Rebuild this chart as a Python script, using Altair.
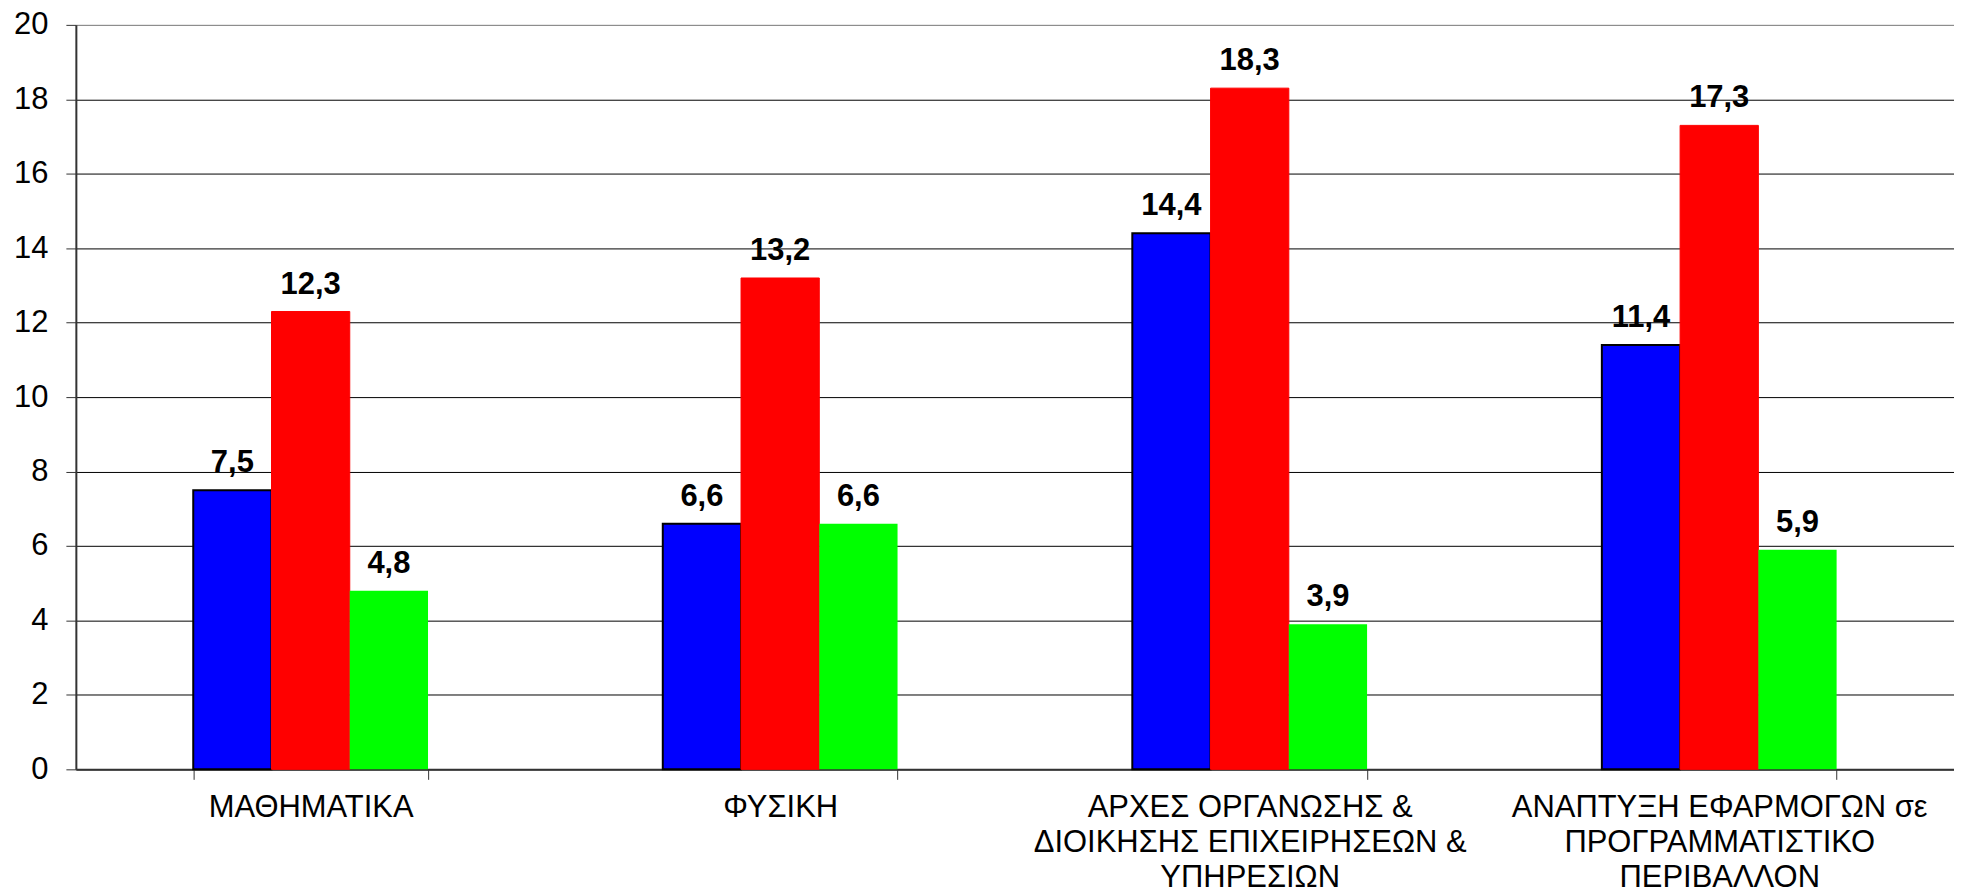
import altair as alt
import pandas as pd

categories = [
    "ΜΑΘΗΜΑΤΙΚΑ",
    "ΦΥΣΙΚΗ",
    "ΑΡΧΕΣ ΟΡΓΑΝΩΣΗΣ &|ΔΙΟΙΚΗΣΗΣ ΕΠΙΧΕΙΡΗΣΕΩΝ &|ΥΠΗΡΕΣΙΩΝ",
    "ΑΝΑΠΤΥΞΗ ΕΦΑΡΜΟΓΩΝ σε|ΠΡΟΓΡΑΜΜΑΤΙΣΤΙΚΟ|ΠΕΡΙΒΑΛΛΟΝ",
]
series = ["Σειρά 1", "Σειρά 2", "Σειρά 3"]
series1 = [7.5, 6.6, 14.4, 11.4]
series2 = [12.3, 13.2, 18.3, 17.3]
series3 = [4.8, 6.6, 3.9, 5.9]
colors = ["#0000FF", "#FF0000", "#00FF00"]
y_ticks = [0, 2, 4, 6, 8, 10, 12, 14, 16, 18, 20]

rows = []
for s, vals in zip(series, [series1, series2, series3]):
    for c, v in zip(categories, vals):
        rows.append({"category": c, "series": s, "value": v})
df = pd.DataFrame(rows)

FONT = "Liberation Sans"

x_enc = alt.X(
    "category:N",
    sort=categories,
    scale=alt.Scale(paddingInner=0.5, paddingOuter=0.25),
    axis=alt.Axis(
        title=None,
        labelAngle=0,
        labelFont=FONT,
        labelFontSize=31,
        labelColor="black",
        labelLineHeight=35,
        labelPadding=13,
        labelExpr="split(datum.label, '|')",
        tickBand="extent",
        tickSize=10,
        tickColor="#333333",
        domainColor="#333333",
        domainWidth=2,
        grid=False,
        labelLimit=600,
    ),
)
xoff = alt.XOffset("series:N", sort=series, scale=alt.Scale(paddingInner=0, paddingOuter=0))
y_enc = alt.Y(
    "value:Q",
    scale=alt.Scale(domain=[0, 20], nice=False),
    axis=alt.Axis(
        title=None,
        values=y_ticks,
        labelFont=FONT,
        labelFontSize=31,
        labelColor="black",
        labelPadding=18,
        tickSize=10,
        tickColor="#333333",
        domainColor="#333333",
        domainWidth=2,
        gridColor={"condition": {"test": "datum.value === 20", "value": "#808080"}, "value": "#000000"},
        gridWidth=1,
        gridOpacity=1,
    ),
)

base = alt.Chart(df)

bars = base.mark_bar().encode(
    x=x_enc,
    xOffset=xoff,
    y=y_enc,
    color=alt.Color("series:N", sort=series, scale=alt.Scale(domain=series, range=colors), legend=None),
    stroke=alt.Stroke("series:N", sort=series,
                      scale=alt.Scale(domain=series, range=["#000000", "#FF0000", "#00FF00"]), legend=None),
    strokeWidth=alt.StrokeWidth("series:N", sort=series,
                                scale=alt.Scale(domain=series, range=[2, 0, 0]), legend=None),
)

labels = base.transform_calculate(
    lbl="replace(format(datum.value, '.1f'), '.', ',')"
).mark_text(
    font=FONT, fontSize=31, fontWeight="bold", color="black", baseline="bottom", dy=-11
).encode(
    x=alt.X("category:N", sort=categories),
    xOffset=xoff,
    y=alt.Y("value:Q"),
    text="lbl:N",
)

chart = alt.layer(bars, labels).properties(
    width=1882, height=746,
    padding={"left": 5, "top": 0, "right": 0, "bottom": 0},
).configure_view(
    fill="#C0C0C0", stroke="#808080", strokeWidth=2
).configure(background="white")

chart.save("out.html", embed_options={"renderer": "svg", "actions": False})
